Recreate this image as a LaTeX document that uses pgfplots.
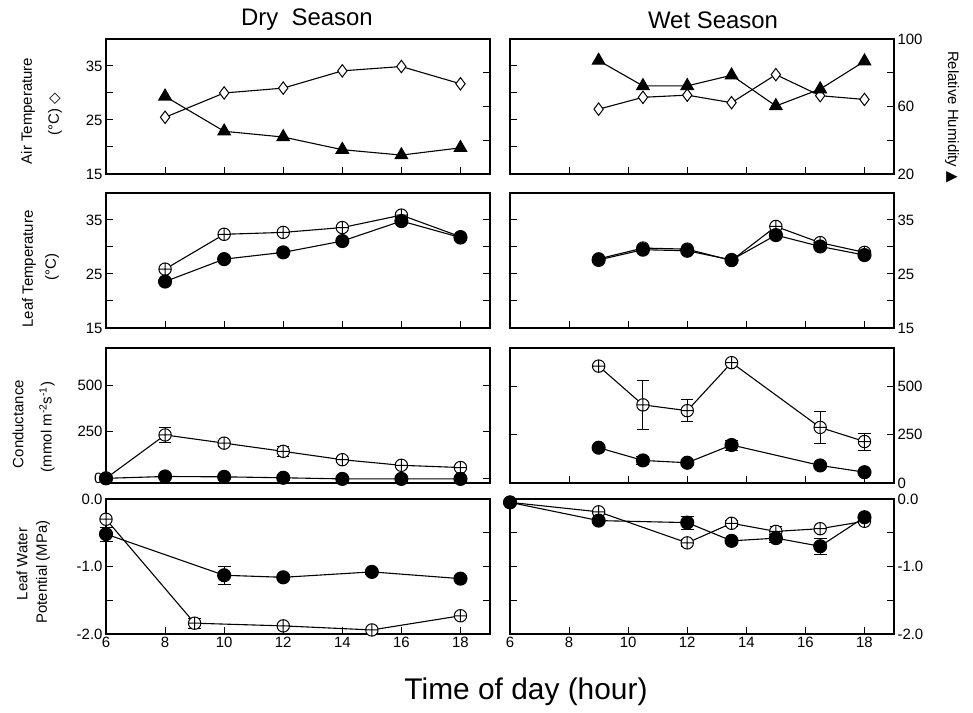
\documentclass[border=0pt]{standalone}
\usepackage{pgfplots}
\pgfplotsset{compat=1.18}
\usepackage{fontspec}
\setmainfont{Liberation Sans}
\newfontfamily\symfont{DejaVu Sans}

\pgfplotsset{
  panel/.style={scale only axis, width=384bp, height=135bp, anchor=south west,
    xmin=6, xmax=19, xtick={6,8,...,18}, xticklabels={}, xtick pos=left,
    clip=false, axis line style={line width=1.3bp},
    major tick length=7bp, every tick/.append style={line width=1bp, black},
    tick label style={font=\fontsize{15}{15}\selectfont},
    /pgf/number format/assume math mode=true},
  ln/.style={black, line width=1.1bp},
  openc/.style={ln, mark=oplus*, mark size=6.2bp, mark options={fill=white, line width=1bp}},
  fillc/.style={ln, mark=*, mark size=6.5bp, mark options={fill=black}},
  tri/.style={ln, mark=triangle*, mark size=7.2bp, mark options={fill=black}},
  dia/.style={ln, mark=diamond*, mark size=6.2bp, mark options={fill=white, line width=1bp}},
  eb/.style={error bars/.cd, y dir=both, y explicit, error bar style={line width=1bp}},
}

\begin{document}
\begin{tikzpicture}[x=1bp,y=1bp]
\useasboundingbox (0,0) rectangle (973,713);

% ---- row 1: air temperature / relative humidity
\begin{axis}[panel, at={(106bp,539bp)}, ymin=15, ymax=40,
  ytick={15,20,...,40}, yticklabels={15,,25,,35,}, ytick pos=left]
\addplot[dia] coordinates {(8,25.5)(10,30.0)(12,30.9)(14,34.1)(16,34.9)(18,31.7)};
\end{axis}
\begin{axis}[panel, at={(106bp,539bp)}, ymin=20, ymax=100,
  ytick={20,40,...,100}, yticklabels={}, axis y line*=right, axis x line=none]
\addplot[tri] coordinates {(8,66)(10,45.3)(12,41.9)(14,34.4)(16,31.2)(18,35.5)};
\end{axis}

\begin{axis}[panel, at={(510bp,539bp)}, ymin=15, ymax=40,
  ytick={15,20,...,40}, yticklabels={}, ytick pos=left]
\addplot[dia] coordinates {(9,27.0)(10.5,29.2)(12,29.6)(13.5,28.2)(15,33.4)(16.5,29.5)(18,28.8)};
\end{axis}
\begin{axis}[panel, at={(510bp,539bp)}, ymin=20, ymax=100,
  ytick={20,40,...,100}, yticklabels={20,,60,,100}, axis y line*=right, axis x line=none]
\addplot[tri] coordinates {(9,87.2)(10.5,72.2)(12,72.2)(13.5,78.5)(15,60.3)(16.5,70.3)(18,86.8)};
\end{axis}

% ---- row 2: leaf temperature
\begin{axis}[panel, at={(106bp,385bp)}, ymin=15, ymax=40,
  ytick={15,20,...,40}, yticklabels={15,,25,,35,}]
\addplot[openc] coordinates {(8,25.9)(10,32.35)(12,32.7)(14,33.6)(16,35.9)(18,31.9)};
\addplot[fillc] coordinates {(8,23.6)(10,27.75)(12,29.0)(14,31.1)(16,34.8)(18,31.75)};
\end{axis}

\begin{axis}[panel, at={(510bp,385bp)}, ymin=15, ymax=40,
  ytick={15,20,...,40}, yticklabels={15,,25,,35,}, yticklabel pos=right]
\addplot[openc] coordinates {(9,27.8)(10.5,29.8)(12,29.6)(13.5,27.5)(15,33.8)(16.5,30.8)(18,29.0)};
\addplot[fillc] coordinates {(9,27.6)(10.5,29.5)(12,29.3)(13.5,27.6)(15,32.2)(16.5,30.1)(18,28.5)};
\end{axis}

% ---- row 3: conductance
\begin{axis}[panel, at={(106bp,230bp)}, ymin=-25, ymax=700, ytick={0,250,500}]
\addplot[openc, eb] coordinates {(6,0) +- (0,0) (8,233) +- (0,40) (10,189) +- (0,15)
  (12,145) +- (0,25) (14,100) +- (0,10) (16,70) +- (0,10) (18,58) +- (0,8)};
\addplot[fillc] coordinates {(6,0)(8,10)(10,8)(12,3)(14,-3)(16,-3)(18,-3)};
\end{axis}

\begin{axis}[panel, at={(510bp,230bp)}, ymin=0, ymax=700, ytick={0,250,500},
  yticklabel pos=right]
\addplot[openc, eb] coordinates {(9,606) +- (0,0) (10.5,405) +- (0,127) (12,375) +- (0,57)
  (13.5,624) +- (0,10) (16.5,288) +- (0,83) (18,215) +- (0,43)};
\addplot[fillc, eb] coordinates {(9,183) +- (0,0) (10.5,117) +- (0,20) (12,105) +- (0,10)
  (13.5,197) +- (0,25) (16.5,91) +- (0,10) (18,56) +- (0,0)};
\end{axis}

% ---- row 4: leaf water potential
\begin{axis}[panel, at={(106bp,79bp)}, ymin=-2, ymax=0,
  ytick={-2,-1.5,...,0}, yticklabels={-2.0,,-1.0,,0.0},
  xticklabels={6,8,10,12,14,16,18}]
\addplot[openc, eb] coordinates {(6,-0.30) +- (0,0) (9,-1.84) +- (0,0.08) (12,-1.88) +- (0,0.03)
  (15,-1.94) +- (0,0.03) (18,-1.73) +- (0,0)};
\addplot[fillc, eb] coordinates {(6,-0.52) +- (0,0.1) (10,-1.13) +- (0,0.13) (12,-1.16) +- (0,0)
  (15,-1.08) +- (0,0.03) (18,-1.18) +- (0,0)};
\end{axis}

\begin{axis}[panel, at={(510bp,79bp)}, ymin=-2, ymax=0,
  ytick={-2,-1.5,...,0}, yticklabels={-2.0,,-1.0,,0.0}, yticklabel pos=right,
  xticklabels={6,8,10,12,14,16,18}]
\addplot[openc, eb] coordinates {(6,-0.05) +- (0,0) (9,-0.19) +- (0,0) (12,-0.65) +- (0,0.05)
  (13.5,-0.36) +- (0,0.05) (15,-0.48) +- (0,0.08) (16.5,-0.44) +- (0,0.03) (18,-0.33) +- (0,0)};
\addplot[fillc, eb] coordinates {(6,-0.05) +- (0,0) (9,-0.32) +- (0,0) (12,-0.35) +- (0,0.1)
  (13.5,-0.62) +- (0,0) (15,-0.58) +- (0,0.06) (16.5,-0.70) +- (0,0.12) (18,-0.27) +- (0,0)};
\end{axis}

% ---- titles and labels
\node[font=\fontsize{24}{24}\selectfont] at (307,693) {Dry\ \ Season};
\node[font=\fontsize{24}{24}\selectfont] at (713,693) {Wet Season};
\node[font=\fontsize{30}{30}\selectfont] at (526,21) {Time of day (hour)};

\begin{scope}[every node/.style={rotate=90, font=\fontsize{15}{15}\selectfont}]
\node at (28,602) {Air Temperature};
\node at (55,599) {(°C) {\symfont ◇}};
\node at (29,444) {Leaf Temperature};
\node at (52,446) {(°C)};
\node at (18,289) {Conductance};
\node at (47,286) {(mmol m\textsuperscript{-2}s\textsuperscript{-1})};
\node at (22,149) {Leaf Water};
\node at (43,141) {Potential (MPa)};
\end{scope}
\node[rotate=-90, font=\fontsize{15}{15}\selectfont] at (952,596) {Relative Humidity {\symfont ▲}};
\end{tikzpicture}
\end{document}
